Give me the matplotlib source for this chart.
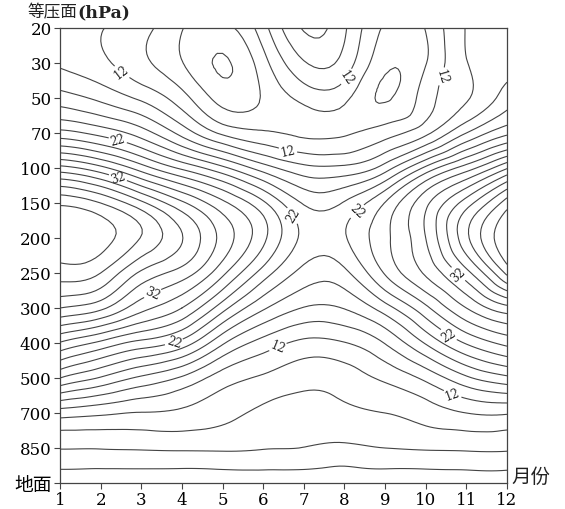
import numpy as np
import matplotlib
matplotlib.use('Agg')
import matplotlib.pyplot as plt
import matplotlib.tri as mtri

plt.rcParams['font.family'] = ['DejaVu Serif', 'Noto Sans CJK SC', 'DejaVu Sans']

# ---- data -------------------------------------------------------------
months = [1, 2, 3, 4, 5, 6, 7, 8, 9, 10, 11, 12]
level_labels = ['20', '30', '50', '70', '100', '150', '200', '250',
                '300', '400', '500', '700', '850', '地面']

# values, one list per pressure level (months 1..12)
v_20 = [13.2, 12.1, 10.7, 8.1, 7.4, 11.2, 16.2, 14.3, 9.7, 10.1, 14.1, 14.8]
v_30 = [13.7, 12.5, 10.5, 8.1, 5.8, 9.2, 13.8, 13.2, 8.5, 9.9, 13.9, 15.2]
v_50 = [16.9, 15.5, 13.6, 10.8, 7.2, 8.2, 10.6, 10.5, 7.8, 11.0, 13.8, 17.0]
v_70 = [22.7, 21.3, 19.0, 15.3, 11.6, 10.3, 9.6, 9.8, 11.1, 13.5, 18.0, 21.5]
v_100 = [32.7, 30.6, 27.0, 23.6, 20.5, 17.0, 14.6, 14.5, 17.0, 22.5, 27.0, 31.8]
v_150 = [41.6, 40.0, 36.5, 32.4, 28.5, 24.4, 19.8, 20.2, 24.1, 29.5, 35.0, 41.0]
v_200 = [43.6, 42.9, 39.9, 36.1, 31.3, 26.5, 21.5, 21.8, 25.5, 30.0, 37.5, 43.6]
v_250 = [41.0, 40.0, 35.6, 33.1, 28.5, 23.1, 19.3, 19.5, 24.2, 28.3, 33.3, 40.5]
v_300 = [36.0, 34.5, 30.7, 28.0, 22.8, 18.3, 15.9, 16.1, 19.1, 23.5, 28.0, 31.3]
v_400 = [27.8, 25.5, 23.3, 21.2, 16.3, 13.2, 11.5, 11.9, 14.1, 18.2, 22.2, 24.6]
v_500 = [20.0, 17.8, 15.6, 13.7, 11.0, 9.7, 8.7, 9.0, 10.4, 12.5, 15.6, 17.5]
v_700 = [11.0, 10.4, 9.9, 9.6, 8.6, 7.6, 7.2, 7.6, 8.0, 8.9, 10.0, 10.2]
v_850 = [6.1, 6.1, 6.2, 6.3, 6.3, 6.1, 5.95, 5.6, 6.0, 6.2, 6.3, 6.3]
v_sfc = [2.5, 2.4, 2.4, 2.3, 2.3, 2.3, 2.3, 2.3, 2.3, 2.3, 2.5, 2.5]

contour_levels = list(range(4, 44, 2))
label_levels = [12, 22, 32]

# ---- figure -----------------------------------------------------------
speed = np.array([v_20, v_30, v_50, v_70, v_100, v_150, v_200, v_250,
                  v_300, v_400, v_500, v_700, v_850, v_sfc])
lev_idx = np.arange(len(level_labels))
X, Y = np.meshgrid(months, lev_idx)

tri = mtri.Triangulation(X.ravel().astype(float), Y.ravel().astype(float))
refiner = mtri.UniformTriRefiner(tri)
tri_f, z_f = refiner.refine_field(speed.ravel(), subdiv=3)

fig = plt.figure(figsize=(5.65, 5.10), dpi=100)
ax = fig.add_axes([60 / 565, 26 / 510, 447 / 565, 455 / 510])

line_col = '#444444'
plain_levels = [v for v in contour_levels if v not in label_levels]
ax.tricontour(tri_f, z_f, levels=plain_levels, colors=line_col,
              linewidths=0.8)
cs_lab = ax.tricontour(tri_f, z_f, levels=label_levels, colors=line_col,
                       linewidths=0.8)

label_pos = [(2.54, 1.23), (8.0, 1.35), (10.6, 1.46), (6.6, 3.54),
             (6.35, 9.08), (10.66, 10.46),
             (2.43, 3.17), (6.79, 5.31), (8.26, 5.17), (3.78, 8.89),
             (10.53, 8.83),
             (2.43, 4.26), (3.34, 7.74), (10.73, 7.11)]
ax.clabel(cs_lab, manual=label_pos, inline=True, inline_spacing=2,
          fmt='%d', fontsize=8.5, colors='#222222')

ax.set_xlim(1, 12)
ax.set_ylim(lev_idx[-1], 0)
ax.set_xticks(months)
ax.set_xticklabels([str(m) for m in months], fontsize=12)
ax.set_yticks(lev_idx)
ax.set_yticklabels(level_labels, fontsize=12)
ax.get_yticklabels()[-1].set_fontsize(13.5)
ax.tick_params(length=4, width=0.8, color=line_col, pad=2)
for s in ax.spines.values():
    s.set_color(line_col)
    s.set_linewidth(0.9)

fig.text(28 / 565, 1 - 13 / 510, '等压面', fontsize=12, va='center',
         ha='left', color='#222222', family=['Noto Sans CJK SC'])
fig.text(77 / 565, 1 - 13 / 510, '(hPa)', fontsize=12.5, va='center',
         ha='left', color='#222222', fontweight='bold')
fig.text(511 / 565, 1 - 478 / 510, '月份', fontsize=14, va='center',
         ha='left', color='#222222')

fig.savefig('out.png', dpi=100)
